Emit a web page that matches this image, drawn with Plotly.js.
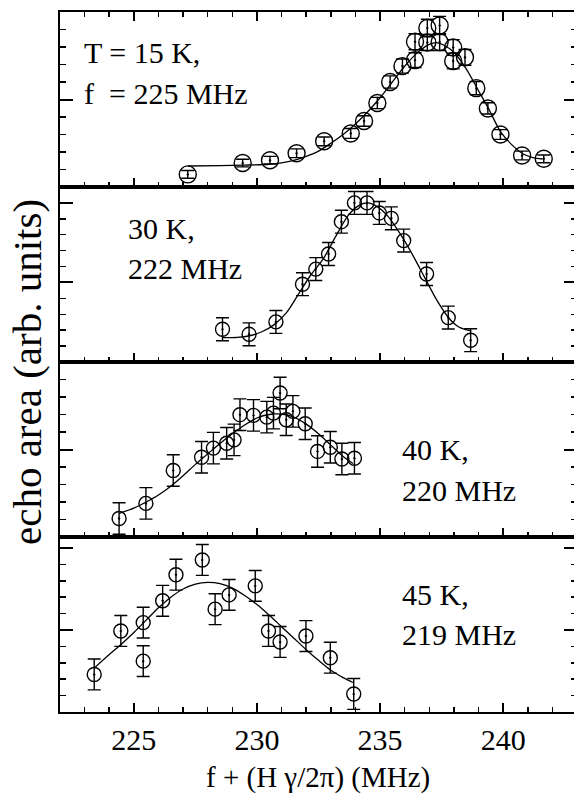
<!DOCTYPE html>
<html>
<head>
<meta charset="utf-8">
<script src="https://cdn.plot.ly/plotly-3.0.1.min.js"></script>
<style>html,body{margin:0;padding:0;background:#fff;overflow:hidden;width:574px;height:796px;}#chart{width:577px;height:796px;}</style>
</head>
<body>
<div id="chart"></div>
<script>
// ---- data ----
const xTickVals = [225, 230, 235, 240];
const xTickText = ['225', '230', '235', '240'];

// Panel 1: T = 15 K, f = 225 MHz
const p1x = [227.19,229.42,230.53,231.61,232.73,233.81,234.35,234.89,235.41,235.91,236.42,236.42,236.92,236.92,237.42,237.42,237.97,237.97,238.45,238.91,239.38,239.89,240.77,241.65];
const p1y = [0.72,1.37,1.53,1.93,2.61,3.06,3.77,4.80,6.00,6.91,7.25,8.30,8.26,9.09,9.23,8.28,7.97,7.20,7.41,5.65,4.49,3.00,1.80,1.61];
const p1e = [0.22,0.22,0.22,0.25,0.25,0.28,0.3,0.32,0.35,0.4,0.42,0.46,0.46,0.5,0.52,0.48,0.45,0.45,0.45,0.38,0.32,0.28,0.25,0.22];
const f1x = [227.2,228.5,229.5,230.5,231.0,231.5,232.0,232.5,233.0,233.5,234.0,234.5,235.0,235.5,236.0,236.5,237.0,237.3,237.6,238.0,238.5,239.0,239.4,239.9,240.4,240.8,241.2,241.6];
const f1y = [1.20,1.22,1.25,1.30,1.38,1.52,1.75,2.05,2.5,3.0,3.6,4.3,5.1,6.0,6.9,7.65,8.15,8.25,8.1,7.7,6.75,5.5,4.5,3.15,2.35,1.9,1.68,1.6];

// Panel 2: 30 K, 222 MHz
const p2x = [228.60,229.68,230.77,231.85,232.39,232.91,233.43,233.96,234.47,234.97,235.46,235.96,236.89,237.77,238.68];
const p2y = [2.06,1.74,2.52,4.89,5.84,6.79,8.82,10.0,10.0,9.37,9.03,7.63,5.53,2.79,1.37];
const p2e = [0.72,0.72,0.72,0.72,0.72,0.72,0.72,0.72,0.72,0.72,0.72,0.72,0.72,0.72,0.72];
const f2x = [228.6,229.2,229.7,230.2,230.7,231.2,231.7,232.2,232.7,233.2,233.7,234.1,234.5,234.9,235.3,235.8,236.3,236.8,237.3,237.8,238.2,238.7];
const f2y = [1.53,1.55,1.65,1.9,2.35,3.1,4.3,5.5,6.5,7.9,9.2,9.8,10.0,9.75,9.2,8.1,6.8,5.35,3.9,2.75,2.2,1.95];

// Panel 3: 40 K, 220 MHz
const p3x = [224.40,225.49,226.60,227.75,228.23,228.77,229.07,229.31,229.86,230.40,230.67,230.94,231.19,231.46,231.96,232.46,232.98,233.45,233.96];
const p3y = [1.06,1.92,3.80,4.56,5.08,5.36,5.55,6.99,6.95,6.85,7.08,8.23,6.70,7.18,6.47,4.89,5.13,4.46,4.50];
const p3e = [0.9,0.9,0.9,0.9,0.9,0.9,0.9,0.9,0.9,0.9,0.9,0.9,0.9,0.9,0.9,0.9,0.9,0.9,0.9];
const f3x = [224.4,225.0,225.5,226.0,226.5,227.0,227.5,228.0,228.5,229.0,229.5,230.0,230.5,231.0,231.5,232.0,232.5,233.0,233.5,233.9];
const f3y = [1.35,1.65,2.0,2.4,2.9,3.5,4.15,4.75,5.35,5.9,6.4,6.8,7.0,7.02,6.85,6.45,5.9,5.25,4.6,4.2];

// Panel 4: 45 K, 219 MHz
const p4x = [223.39,224.47,225.38,225.38,226.17,226.71,227.78,228.30,228.87,229.93,230.47,230.94,231.99,232.98,233.93];
const p4y = [2.29,4.94,5.45,3.10,6.78,8.37,9.27,6.27,7.14,7.69,4.94,4.27,4.63,3.31,1.10];
const p4e = [0.94,0.94,0.94,0.94,0.94,0.94,0.94,0.94,0.94,0.94,0.94,0.94,0.94,0.94,0.94];
const f4x = [223.4,224.0,224.5,225.0,225.5,226.0,226.5,227.0,227.5,228.0,228.5,229.0,229.5,230.0,230.5,231.0,231.5,232.0,232.5,233.0,233.5,233.9];
const f4y = [2.69,3.5,4.15,4.85,5.6,6.35,7.0,7.5,7.8,7.9,7.82,7.55,7.1,6.55,5.9,5.2,4.5,3.8,3.15,2.55,2.1,1.8];

const panelLabels = [
  ['T = 15 K,', 'f\u00a0 = 225 MHz'],
  ['30 K,', '222 MHz'],
  ['40 K,', '220 MHz'],
  ['45 K,', '219 MHz']
];
const xTitle = 'f + (H \u03b3/2\u03c0) (MHz)';
const yTitle = 'echo area (arb. units)';

// ---- build ----
const FONT = '"Liberation Serif", "Times New Roman", Times, serif';
const markerSizes = [17, 14, 14, 14];
const sets = [
  {px:p1x, py:p1y, pe:p1e, fx:f1x, fy:f1y},
  {px:p2x, py:p2y, pe:p2e, fx:f2x, fy:f2y},
  {px:p3x, py:p3y, pe:p3e, fx:f3x, fy:f3y},
  {px:p4x, py:p4y, pe:p4e, fx:f4x, fy:f4y}
];
const traces = [];
sets.forEach((s, i) => {
  const xa = i === 0 ? 'x' : 'x' + (i + 1);
  const ya = i === 0 ? 'y' : 'y' + (i + 1);
  traces.push({
    x: s.fx, y: s.fy, xaxis: xa, yaxis: ya, type: 'scatter', mode: 'lines',
    line: {color: '#000', width: 1.3, shape: 'spline', smoothing: 0.8},
    hoverinfo: 'skip'
  });
  traces.push({
    x: s.px, y: s.py, xaxis: xa, yaxis: ya, type: 'scatter', mode: 'markers',
    marker: {symbol: 'circle-open-dot', size: markerSizes[i], color: '#000', line: {color: '#000', width: 1.4}},
    error_y: {type: 'data', array: s.pe, visible: true, color: '#000', thickness: 1.4, width: 6.5}
  });
});

const xRange = [222, 243];
function xAxis(i) {
  return {
    range: xRange, anchor: i === 0 ? 'y' : 'y' + (i + 1),
    tickmode: 'array', tickvals: xTickVals, ticktext: xTickText,
    ticks: 'inside', ticklen: 9, tickwidth: 2, tickcolor: '#000',
    showline: true, linewidth: 2, linecolor: '#000',
    mirror: i === 0 ? 'ticks' : true,
    showgrid: false, zeroline: false,
    showticklabels: i === 3,
    tickfont: {family: FONT, size: 30, color: '#000'},
    ticklabelstandoff: 0,
    minor: {dtick: 1, tick0: 225, ticks: 'inside', ticklen: 5, tickwidth: 1.5, tickcolor: '#000', showgrid: false},
    fixedrange: true
  };
}
const yRanges = [[0, 10], [0, 11], [0, 10], [0, 10.67]];
const yDomains = [[0.75, 1], [0.5, 0.75], [0.25, 0.5], [0, 0.25]];
function yAxis(i) {
  return {
    domain: yDomains[i], range: yRanges[i], anchor: i === 0 ? 'x' : 'x' + (i + 1),
    tickmode: 'linear', tick0: 0, dtick: 5,
    ticks: 'inside', ticklen: 13, tickwidth: 2, tickcolor: '#000',
    showline: true, linewidth: 2, linecolor: '#000', mirror: 'ticks',
    showgrid: false, zeroline: false, showticklabels: false,
    minor: {dtick: 1, tick0: 0, ticks: 'inside', ticklen: 6, tickwidth: 1.5, tickcolor: '#000', showgrid: false},
    fixedrange: true
  };
}

const FIGW = 577, FIGH = 796;
const L = 60, T = 12, W = FIGW - L, H = 700;
function px2paperX(p) { return (p - L) / W; }
function px2paperY(p) { return (T + H - p) / H; }

const labelPos = [
  {x: 82, y: [52, 93]},
  {x: 126, y: [228, 268]},
  {x: 400, y: [449, 490]},
  {x: 400, y: [594, 634]}
];
const annotations = [];
panelLabels.forEach((lines, i) => {
  lines.forEach((t, j) => {
    annotations.push({
      xref: 'paper', yref: 'paper', x: px2paperX(labelPos[i].x), y: px2paperY(labelPos[i].y[j]),
      xanchor: 'left', yanchor: 'middle', text: t, showarrow: false,
      font: {family: FONT, size: 30, color: '#000'}
    });
  });
});
annotations.push({
  xref: 'paper', yref: 'paper', x: px2paperX(318), y: px2paperY(777),
  xanchor: 'center', yanchor: 'middle', text: xTitle, showarrow: false,
  font: {family: FONT, size: 29, color: '#000'}
});
annotations.push({
  xref: 'paper', yref: 'paper', x: px2paperX(27), y: px2paperY(372),
  xanchor: 'center', yanchor: 'middle', text: yTitle, showarrow: false, textangle: -90,
  font: {family: FONT, size: 41, color: '#000'}
});

const layout = {
  width: FIGW, height: FIGH,
  margin: {l: L, r: 0, t: T, b: FIGH - T - H, pad: 0},
  paper_bgcolor: '#fff', plot_bgcolor: '#fff',
  showlegend: false,
  font: {family: FONT, color: '#000'},
  annotations: annotations
};
for (let i = 0; i < 4; i++) {
  layout[i === 0 ? 'xaxis' : 'xaxis' + (i + 1)] = xAxis(i);
  layout[i === 0 ? 'yaxis' : 'yaxis' + (i + 1)] = yAxis(i);
}
Plotly.newPlot('chart', traces, layout, {displayModeBar: false, staticPlot: true});
</script>
</body>
</html>
